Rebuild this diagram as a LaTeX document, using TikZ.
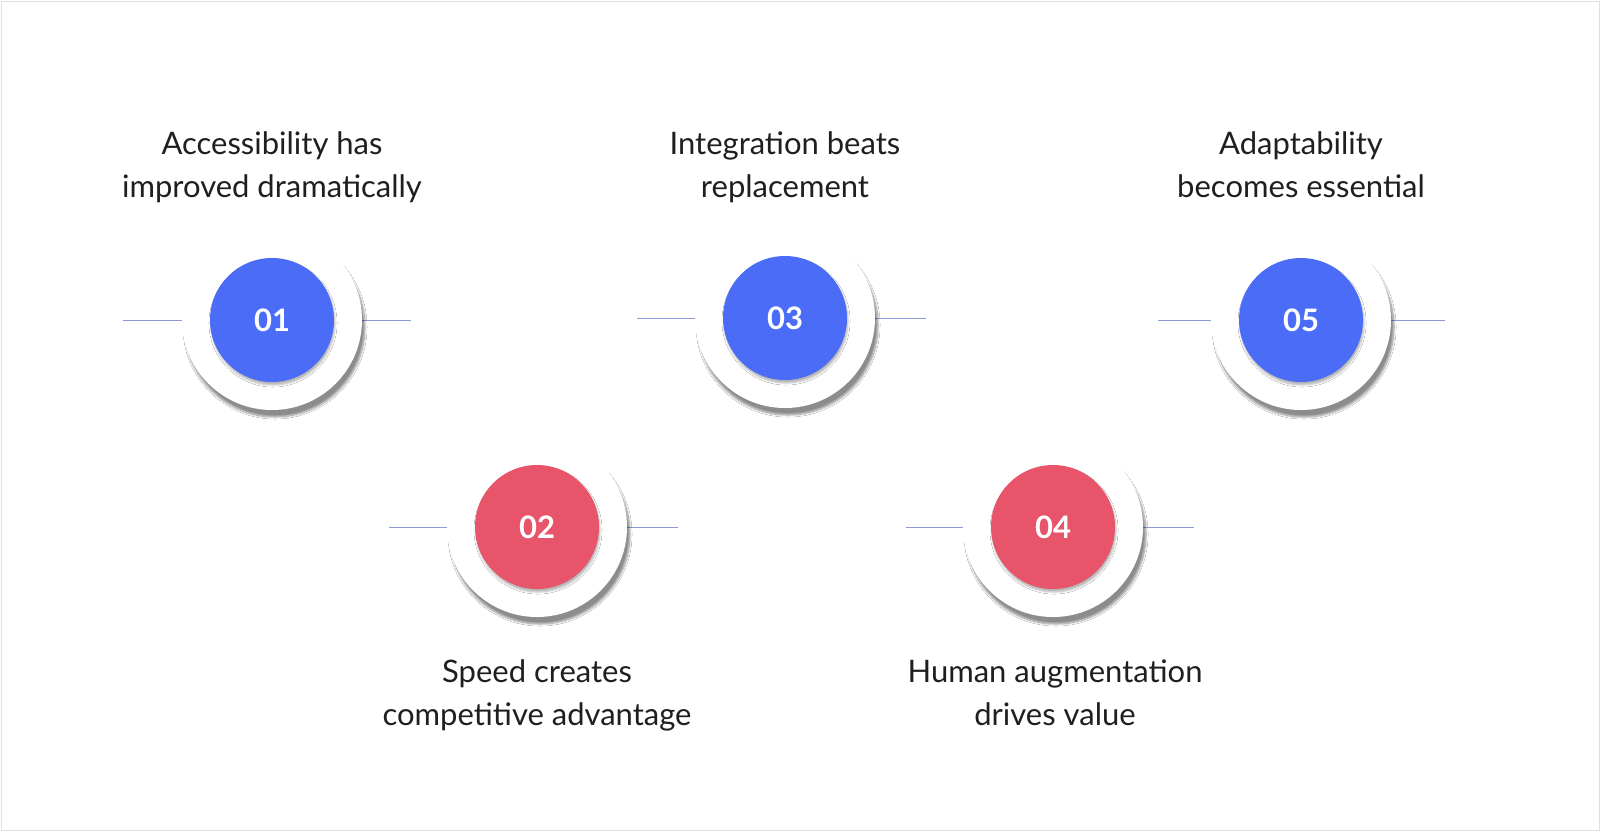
\documentclass[tikz,border=0pt]{standalone}
\usepackage{fontspec}
\setmainfont{Lato}
\usetikzlibrary{shadows.blur}
\definecolor{cblue}{HTML}{4A6CF6}
\definecolor{cred}{HTML}{E8546A}
\definecolor{lineblue}{HTML}{8C9BD6}
\begin{document}
\begin{tikzpicture}[x=1pt,y=-1pt,
  outer/.style={circle,fill=white,minimum size=180pt,blur shadow={shadow xshift=3pt,shadow yshift=-7pt,shadow blur steps=8,shadow opacity=45}},
  inner/.style={circle,minimum size=124pt,text=white,font=\fontsize{31}{31}\selectfont\bfseries,blur shadow={shadow xshift=1pt,shadow yshift=-3pt,shadow opacity=30}},
  lbl/.style={align=center,anchor=base,font=\fontsize{31}{43}\selectfont,text=black!88},
  conn/.style={draw=lineblue,line width=1pt}]
\useasboundingbox (0,0) rectangle (1600,831);
\fill[white] (0,0) rectangle (1600,831);
\draw[black!12,line width=1pt] (1,1) rectangle (1599,830);
\foreach \n/\x/\y/\c/\l/\r in {1/272/320/cblue/123/411, 3/785/318/cblue/637/926, 5/1301/320/cblue/1158/1445, 2/537/527/cred/389/678, 4/1053/527/cred/906/1194}{
  \coordinate (l\n) at (\l,\y);
  \coordinate (r\n) at (\r,\y);
  \draw[conn] (l\n) -- (r\n);
  \node[outer] (o\n) at (\x,\y) {};
  \node[inner,fill=\c] (c\n) at (\x,\y) {0\n};
}
\node[lbl] (t1) at (272,197) {Accessibility has\\improved dramatically};
\node[lbl] (t3) at (785,197) {Integration beats\\replacement};
\node[lbl] (t5) at (1301,197) {Adaptability\\becomes essential};
\node[lbl] (t2) at (537,725) {Speed creates\\competitive advantage};
\node[lbl] (t4) at (1055,725) {Human augmentation\\drives value};
\end{tikzpicture}
\end{document}
